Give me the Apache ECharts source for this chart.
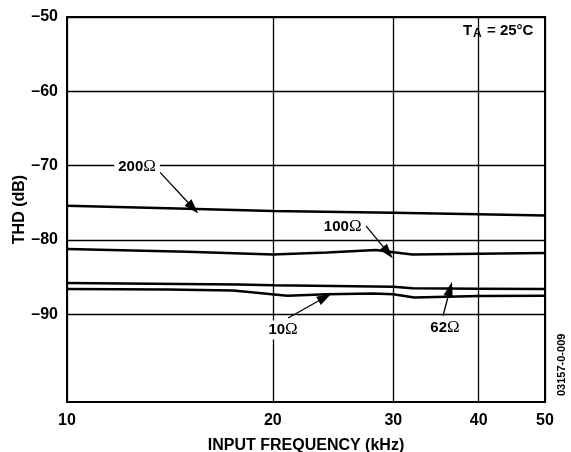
<!DOCTYPE html>
<html>
<head>
<meta charset="utf-8">
<script src="https://cdn.jsdelivr.net/npm/echarts@6/dist/echarts.min.js"></script>
<style>
  html, body { margin: 0; padding: 0; background: #fff; }
  #chart { width: 571px; height: 452px; }
</style>
</head>
<body>
<div id="chart"></div>
<script>
// THD versus input frequency for four source resistances
const xTicks = [10, 20, 30, 40, 50];          // kHz, log axis
const yTicks = [-50, -60, -70, -80, -90];     // dB

const r200Freq = [10, 15, 20, 30, 40, 50];
const r200Thd  = [-75.4, -75.8, -76.1, -76.35, -76.55, -76.7];

const r100Freq = [10, 15, 20, 24, 28.3, 30, 32, 40, 50];
const r100Thd  = [-81.2, -81.6, -81.95, -81.7, -81.35, -81.65, -81.95, -81.85, -81.75];

const r62Freq = [10, 17.8, 20, 30, 32, 40, 50];
const r62Thd  = [-85.8, -86.0, -86.1, -86.3, -86.5, -86.55, -86.6];

const r10Freq = [10, 14, 17.5, 21, 24, 28, 30, 32.2, 40, 50];
const r10Thd  = [-86.6, -86.65, -86.8, -87.5, -87.3, -87.2, -87.3, -87.75, -87.55, -87.5];

// callout text, label anchor and arrow [from, to] in data units
const noteText   = ['200', '100', '10', '62'];
const noteAt     = [[12.66, -70.1], [25.3, -78.2], [20.7, -92.1], [35.7, -91.8]];
const arrowFrom  = [[13.68, -70.9], [27.36, -78.1], [21.05, -90.5], [35.47, -90.2]];
const arrowTo    = [[15.29, -75.7], [29.48, -81.7], [23.84, -87.7], [36.32, -86.6]];

const zip = (xs, ys) => xs.map((x, i) => [x, ys[i]]);
const FONT = '"Liberation Sans", Arial, sans-serif';
const ARROW_HEAD = 'path://M5,0 L10,16 L0,16 Z';

function curve(name, xs, ys, idx) {
  return {
    name, type: 'line', data: zip(xs, ys), showSymbol: false, z: 3,
    lineStyle: { color: '#000', width: 2.5 },
    markLine: {
      silent: true, symbol: ['none', ARROW_HEAD], symbolSize: 15, symbolKeepAspect: true, z: 4,
      itemStyle: { color: '#000' },
      lineStyle: { color: '#000', width: 1.3, type: 'solid' },
      label: { show: false },
      data: [[{ coord: arrowFrom[idx] }, { coord: arrowTo[idx] }]]
    }
  };
}

const chart = echarts.init(document.getElementById('chart'), null, { renderer: 'canvas' });
chart.setOption({
  animation: false,
  backgroundColor: '#fff',
  grid: {
    left: 67, right: 26, top: 17, bottom: 50,
    outerBoundsMode: 'none', containLabel: false,
    show: true, borderColor: '#000', borderWidth: 2, backgroundColor: 'transparent'
  },
  xAxis: {
    type: 'log', logBase: 10, min: 10, max: 50,
    name: 'INPUT FREQUENCY (kHz)', nameLocation: 'middle', nameGap: 36, nameMoveOverlap: false,
    nameTextStyle: { fontFamily: FONT, fontWeight: 'bold', fontSize: 16, color: '#000' },
    axisLine: { show: false },
    axisTick: { show: false, customValues: xTicks },
    axisLabel: {
      customValues: xTicks, margin: 11,
      fontFamily: FONT, fontWeight: 'bold', fontSize: 16, color: '#000'
    },
    splitLine: { show: true, lineStyle: { color: '#000', width: 1.3 } },
    minorSplitLine: { show: false }
  },
  yAxis: {
    type: 'value', min: -101.8, max: -50,
    name: 'THD (dB)', nameLocation: 'middle', nameGap: 39, nameRotate: 90, nameMoveOverlap: false,
    nameTextStyle: { fontFamily: FONT, fontWeight: 'bold', fontSize: 16, color: '#000' },
    axisLine: { show: false },
    axisTick: { show: false, customValues: yTicks },
    axisLabel: {
      customValues: yTicks, margin: 9,
      fontFamily: FONT, fontWeight: 'bold', fontSize: 16, color: '#000',
      formatter: v => '\u2013' + Math.abs(v)
    },
    splitLine: { show: true, lineStyle: { color: '#000', width: 1.3 } }
  },
  series: [
    curve('200\u03A9', r200Freq, r200Thd, 0),
    curve('100\u03A9', r100Freq, r100Thd, 1),
    curve('10\u03A9', r10Freq, r10Thd, 2),
    curve('62\u03A9', r62Freq, r62Thd, 3),
    {
      name: 'notes', type: 'scatter', z: 5, silent: true,
      symbolSize: 1, itemStyle: { color: 'rgba(0,0,0,0)', opacity: 1 },
      data: noteAt,
      label: {
        show: true, position: 'inside', opacity: 1,
        formatter: p => noteText[p.dataIndex] + '{o|\u03A9}',
        fontFamily: FONT, fontWeight: 'bold', fontSize: 15, color: '#000',
        backgroundColor: '#fff', padding: [1, 4],
        rich: { o: { fontFamily: '"Liberation Serif", serif', fontWeight: 'normal', fontSize: 17, color: '#000' } }
      }
    }
  ],
  graphic: [
    { type: 'text', left: 463, top: 23, style: { text: 'T', font: 'bold 15px ' + FONT, fill: '#000' } },
    { type: 'text', left: 473, top: 28, style: { text: 'A', font: 'bold 12px ' + FONT, fill: '#000' } },
    { type: 'text', left: 487, top: 23, style: { text: '= 25\u00B0C', font: 'bold 15px ' + FONT, fill: '#000' } },
    { type: 'text', x: 562, y: 396, rotation: Math.PI / 2, style: { text: '03157-0-009', font: 'bold 11px ' + FONT, fill: '#000', align: 'left', verticalAlign: 'middle' } }
  ]
});
</script>
</body>
</html>
